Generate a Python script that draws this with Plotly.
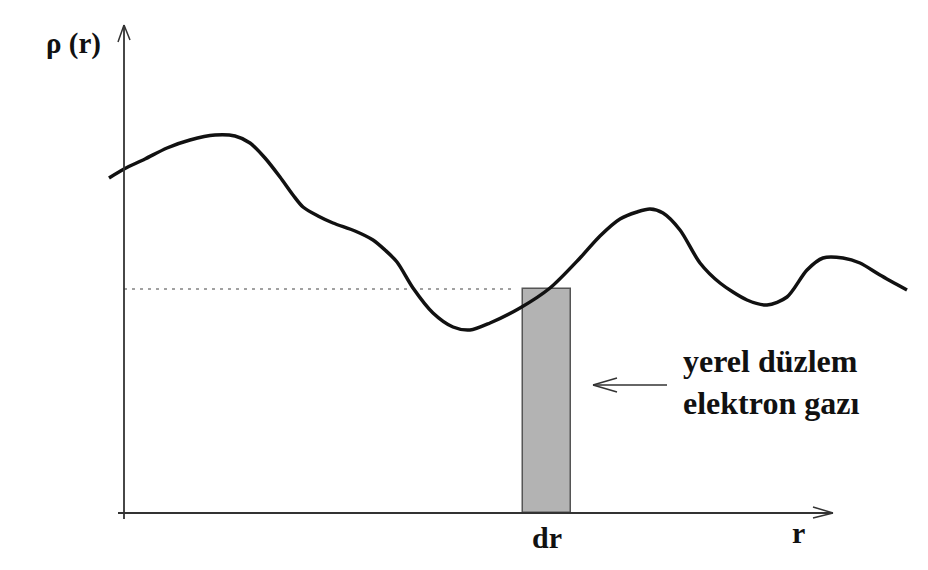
import plotly.graph_objects as go

# Density curve rho(r), in drawing units (origin at the axes' corner)
r_vals = [-15, 0, 21, 43, 66, 91, 111, 126, 141, 156, 169, 179, 194, 209, 231, 249, 261,
          273, 289, 309, 329, 346, 366, 396, 426, 456, 476, 496, 513, 526, 539, 556,
          576, 596, 623, 643, 663, 683, 699, 719, 736, 756, 783]
rho_vals = [335, 344, 354, 365, 373, 378, 377, 370, 355, 336, 318, 306, 297, 290, 282, 273, 263,
            251, 225, 200, 186, 183, 190, 205, 225, 255, 277, 294, 301, 304, 300, 283,
            250, 230, 213, 208, 216, 243, 255, 255, 250, 238, 223]

# Local homogeneous electron gas slab at r0 with width dr
slab_r0 = 399
slab_dr = 48
slab_rho = 224

x_label = "r"
y_label = "ρ (r)"
slab_label = "dr"
note_text = "yerel düzlem<br>elektron gazı"

fig = go.Figure()

# dashed level line
fig.add_trace(go.Scatter(x=[0, slab_r0 - 10], y=[slab_rho, slab_rho], mode="lines",
                         line=dict(color="#444444", width=1.2, dash="3px,5px"),
                         hoverinfo="skip", showlegend=False))

# slab bar
fig.add_trace(go.Bar(x=[slab_r0 + slab_dr / 2], y=[slab_rho], width=[slab_dr],
                     marker=dict(color="#b3b3b3", line=dict(color="#555555", width=1.5)),
                     hoverinfo="skip", showlegend=False))

# curve
fig.add_trace(go.Scatter(x=r_vals, y=rho_vals, mode="lines",
                         line=dict(color="#111111", width=3.5, shape="spline", smoothing=0.8),
                         hoverinfo="skip", showlegend=False))

ax_col = "#333333"
shapes = [
    # y axis with open arrowhead
    dict(type="line", x0=0, y0=-6, x1=0, y1=488, line=dict(color=ax_col, width=1.8)),
    dict(type="line", x0=0, y0=488, x1=-6, y1=471, line=dict(color=ax_col, width=1.5)),
    dict(type="line", x0=0, y0=488, x1=6, y1=473, line=dict(color=ax_col, width=1.5)),
    # x axis with open arrowhead
    dict(type="line", x0=-6, y0=0, x1=709, y1=0, line=dict(color=ax_col, width=1.8)),
    dict(type="line", x0=709, y0=0, x1=689, y1=6, line=dict(color=ax_col, width=1.5)),
    dict(type="line", x0=709, y0=0, x1=689, y1=-5, line=dict(color=ax_col, width=1.5)),
    # pointer arrow to slab
    dict(type="line", x0=469, y0=128, x1=543, y1=128, line=dict(color=ax_col, width=1.5)),
    dict(type="line", x0=469, y0=128, x1=493, y1=135, line=dict(color=ax_col, width=1.5)),
    dict(type="line", x0=469, y0=128, x1=493, y1=121, line=dict(color=ax_col, width=1.5)),
]

font_serif = "Liberation Serif, DejaVu Serif, serif"
annotations = [
    dict(x=-51, y=470, text="<b>" + y_label + "</b>", showarrow=False,
         font=dict(family=font_serif, size=29, color="#111111"), xanchor="center", yanchor="middle"),
    dict(x=slab_r0 + slab_dr / 2, y=-24, text="<b>" + slab_label + "</b>", showarrow=False,
         font=dict(family=font_serif, size=30, color="#111111"), xanchor="center", yanchor="middle"),
    dict(x=674, y=-19, text="<b>" + x_label + "</b>", showarrow=False,
         font=dict(family=font_serif, size=30, color="#111111"), xanchor="center", yanchor="middle"),
    dict(x=557, y=131, text="<b>" + note_text + "</b>", showarrow=False, align="left",
         font=dict(family=font_serif, size=32, color="#111111"), xanchor="left", yanchor="middle"),
]

fig.update_layout(
    width=928, height=570,
    margin=dict(l=0, r=0, t=0, b=0),
    paper_bgcolor="white", plot_bgcolor="white",
    xaxis=dict(range=[-116, 812], visible=False, fixedrange=True),
    yaxis=dict(range=[-65, 505], visible=False, fixedrange=True),
    shapes=shapes, annotations=annotations, bargap=0,
)

fig.write_html("out.html")
